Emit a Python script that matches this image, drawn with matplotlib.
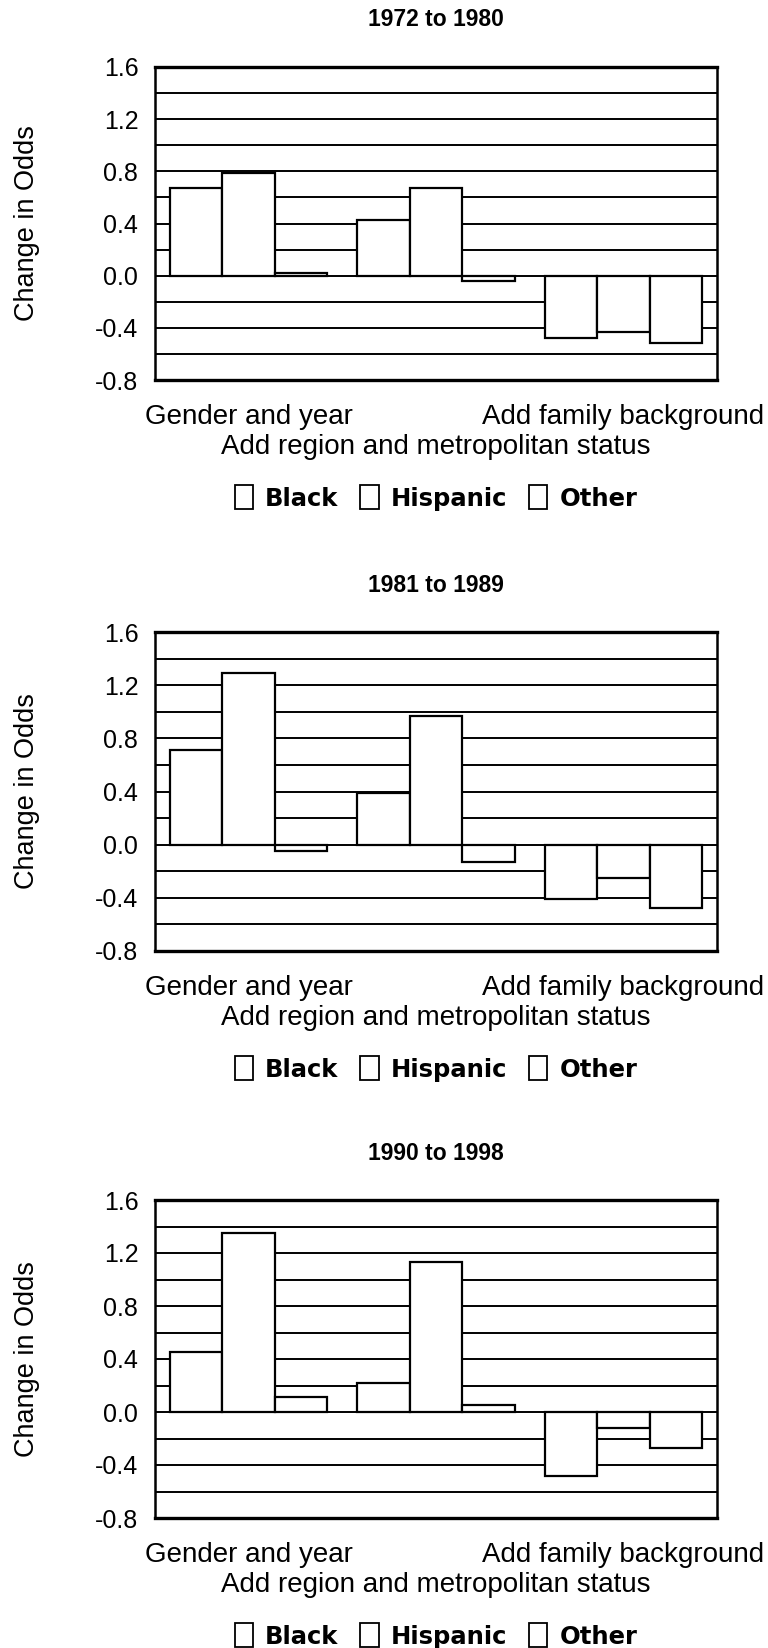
import numpy as np
import matplotlib
matplotlib.use("Agg")
import matplotlib.pyplot as plt
from matplotlib.patches import Patch
from matplotlib.transforms import blended_transform_factory

plt.rcParams['font.family'] = ['Liberation Sans', 'DejaVu Sans']
plt.rcParams['axes.unicode_minus'] = False

# Daten
categories = ["Gender and year",
              "Add region and metropolitan status",
              "Add family background"]
series = ["Black", "Hispanic", "Other"]
titles = ["1972 to 1980", "1981 to 1989", "1990 to 1998"]

black_72 = [0.67, 0.43, -0.48]
hisp_72 = [0.79, 0.67, -0.43]
other_72 = [0.02, -0.04, -0.52]

black_81 = [0.71, 0.39, -0.41]
hisp_81 = [1.29, 0.97, -0.25]
other_81 = [-0.05, -0.13, -0.48]

black_90 = [0.45, 0.22, -0.48]
hisp_90 = [1.35, 1.13, -0.12]
other_90 = [0.11, 0.05, -0.27]

panels = [
    (black_72, hisp_72, other_72),
    (black_81, hisp_81, other_81),
    (black_90, hisp_90, other_90),
]

ytick_vals = [-0.8, -0.4, 0.0, 0.4, 0.8, 1.2, 1.6]
grid_vals = np.arange(-0.8, 1.61, 0.2)

W, H = 768, 1648
fig = plt.figure(figsize=(W / 100, H / 100), dpi=100)

# Achsen-Positionen (Pixel: oben, unten)
boxes = [(67, 380), (632, 951), (1200, 1518)]
left, right = 155, 717

x = np.arange(len(categories))
width = 0.28

for (top, bottom), title, vals in zip(boxes, titles, panels):
    h = bottom - top
    ax = fig.add_axes([left / W, 1 - bottom / H, (right - left) / W, h / H])
    for i, v in enumerate(vals):
        ax.bar(x + (i - 1) * width, v, width, color="white", edgecolor="black",
               linewidth=1.6, zorder=3, label=series[i])

    ax.set_xlim(-0.5, 2.5)
    ax.set_ylim(-0.8, 1.6)
    ax.set_yticks(ytick_vals)
    ax.set_yticklabels([f"{t:.1f}" for t in ytick_vals])
    ax.set_yticks(grid_vals, minor=True)
    ax.grid(axis="y", which="both", color="black", linewidth=1.4, zorder=0)
    ax.set_axisbelow(True)
    ax.tick_params(axis="y", which="both", length=0, pad=12, labelsize=18)

    # Kategorien: 1. und 3. oben, 2. eine Zeile tiefer
    ax.set_xticks(x)
    ax.set_xticklabels([categories[0], "", categories[2]])
    ax.tick_params(axis="x", length=0, pad=17, labelsize=20)
    trans = blended_transform_factory(ax.transData, ax.transAxes)
    ax.text(x[1], -67 / h, categories[1], transform=trans, ha="center",
            va="center", fontsize=20)

    for s in ["top", "bottom"]:
        ax.spines[s].set_linewidth(2.4)
    for s in ["left", "right"]:
        ax.spines[s].set_linewidth(1.8)

    ax.set_ylabel("Change in Odds", fontsize=19.5)
    ax.yaxis.set_label_coords(-0.205, 0.5)

    ax.text(0.5, 1 + 47 / h, title, transform=ax.transAxes, ha="center",
            va="center", fontsize=16.5, fontweight="bold")

    handles = [Patch(facecolor="white", edgecolor="black", linewidth=1.3) for _ in series]
    ax.legend(handles, series, loc="center", bbox_to_anchor=(0.5, -118 / h),
              ncol=3, frameon=False, handlelength=0.75, handleheight=1.15,
              handletextpad=0.5, columnspacing=0.9,
              prop={"family": "DejaVu Sans", "weight": "bold", "size": 17.5})

fig.savefig("out.png", dpi=100)
